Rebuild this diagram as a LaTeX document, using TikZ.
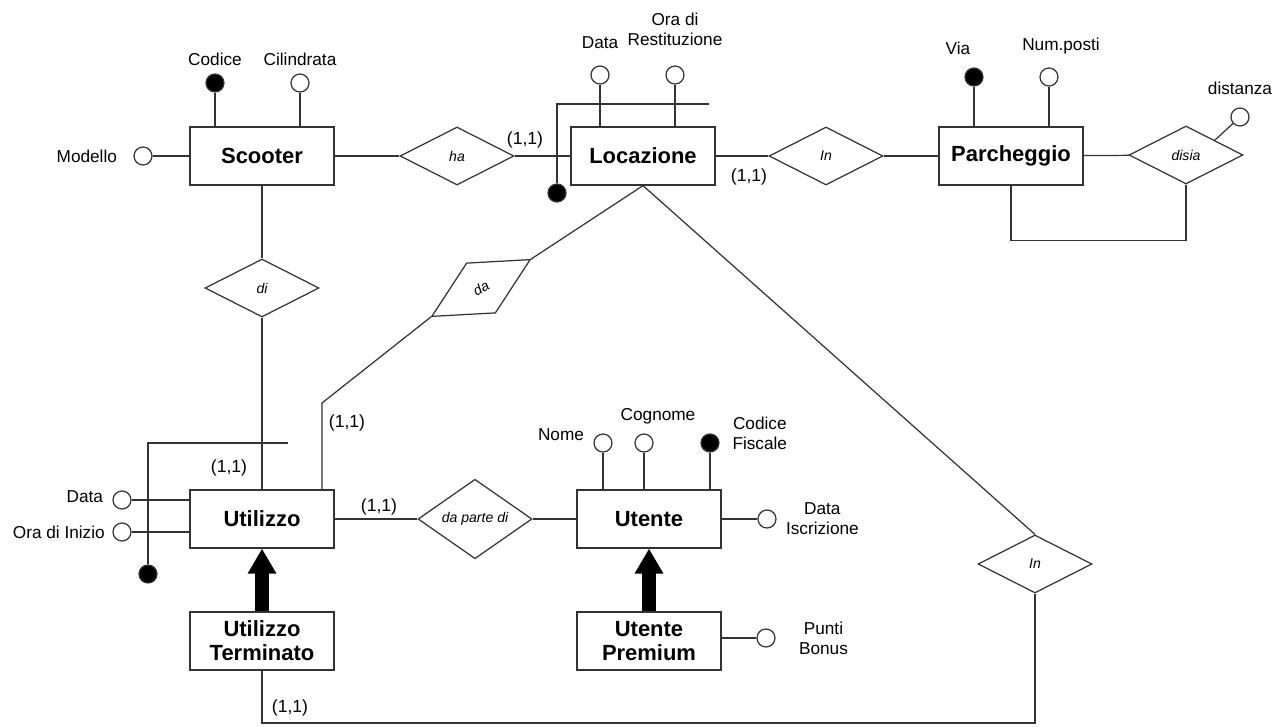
\documentclass[tikz,border=0pt]{standalone}
\usepackage{fontspec}
\setmainfont{Liberation Sans}
\usetikzlibrary{shapes.geometric,arrows.meta}

\begin{document}
\begin{tikzpicture}[x=0.02cm,y=-0.02cm,color=black!80,text=black,line width=0.7pt]
  \useasboundingbox (0,0) rectangle (1286,727);
  \tikzset{EntityStyle/.style = {rectangle,
                                 draw,
                                 align          = center,
                                 inner sep      = 0pt,
                                 minimum width  = 2.88cm,
                                 minimum height = 1.16cm,
                                 font           = \fontsize{12.5}{13.5}\selectfont\bfseries}}

  \tikzset{RelationStyle/.style = {shape          = diamond,
                                   draw,
                                   inner sep      = 0pt,
                                   minimum width  = 2.28cm,
                                   minimum height = 1.16cm,
                                   font           = \fontsize{8}{9}\selectfont\itshape}}

  \tikzset{AttrStyle/.style = {shape          = circle,
                               draw,
                               fill           = white,
                               inner sep      = 0pt,
                               minimum size   = 0.36cm}}

  \tikzset{KeyStyle/.style = {AttrStyle,
                              fill           = black}}

  \tikzset{every label/.style = {font      = \fontsize{9.8}{11.5}\selectfont,
                                 align     = center,
                                 inner sep = 1pt,
                                 text      = black}}

  \tikzset{CardStyle/.style = {font = \fontsize{10}{12}\selectfont}}
  \tikzset{EdgeStyle/.style = {line width = 0.7pt}}
  \tikzset{GenStyle/.style  = {draw = black,
                               line width = 0.28cm,
                               -{Triangle[width=0.54cm,length=0.5cm]}}}

     % entities
     \node[EntityStyle] (Scooter)    at (262,156) {Scooter};
     \node[EntityStyle] (Locazione)  at (643,156) {Locazione};
     \node[EntityStyle] (Parcheggio) at (1011,156) {Parcheggio};
     \node[EntityStyle] (Utilizzo)   at (262,519) {Utilizzo};
     \node[EntityStyle] (UtiTerm)    at (262,641) {Utilizzo\\Terminato};
     \node[EntityStyle] (Utente)     at (649,519) {Utente};
     \node[EntityStyle] (Premium)    at (649,641) {Utente\\Premium};

     % relationships
     \node[RelationStyle] (ha)      at (457,156) {ha};
     \node[RelationStyle] (inPark)  at (826,156) {In};
     \node[RelationStyle] (disia)   at (1186,155) {disia};
     \node[RelationStyle] (di)      at (262,288) {di};
     \node[RelationStyle,rotate=30] (da) at (481,288) {da};
     \node[RelationStyle] (daParte) at (475,519) {da parte di};
     \node[RelationStyle] (inLoc)   at (1035,564) {In};

     % attributes
     \node[KeyStyle]  (Codice)     at (215,83) [label={[label distance=3pt]above:Codice}]{};
     \node[AttrStyle] (Cilindrata) at (300,83) [label={[label distance=3pt]above:Cilindrata}]{};
     \node[AttrStyle] (Modello)    at (143,156) [label={[label distance=8pt]left:Modello}]{};
     \node[AttrStyle] (LocData)    at (600,75) [label={[label distance=8pt]above:Data}]{};
     \node[AttrStyle] (LocOra)     at (675,75) [label={[label distance=10pt]above:Ora di\\Restituzione}]{};
     \node[KeyStyle]  (LocKey)     at (557,193) {};
     \node[KeyStyle]  (Via)        at (974,77) [label={[label distance=6pt,xshift=-0.32cm]above:Via}]{};
     \node[AttrStyle] (NumPosti)   at (1049,77) [label={[label distance=6pt,xshift=0.24cm]above:Num.posti}]{};
     \node[AttrStyle] (Distanza)   at (1240,117) [label={[label distance=6pt]above:distanza}]{};
     \node[AttrStyle] (UtiData)    at (122,500) [label={[label distance=4pt,yshift=0.06cm]left:Data}]{};
     \node[AttrStyle] (UtiOra)     at (122,532) [label={[label distance=3pt]left:Ora di Inizio}]{};
     \node[KeyStyle]  (UtiKey)     at (148,574) {};
     \node[AttrStyle] (Nome)       at (603,443) [label={[label distance=4pt,yshift=0.16cm]left:Nome}]{};
     \node[AttrStyle] (Cognome)    at (644,443) [label={[label distance=4pt,xshift=0.28cm]above:Cognome}]{};
     \node[KeyStyle]  (CodFisc)    at (710,443) [label={[label distance=6pt,yshift=0.19cm]right:Codice\\Fiscale}]{};
     \node[AttrStyle] (DataIscr)   at (767,519) [label={[label distance=4pt]right:Data\\Iscrizione}]{};
     \node[AttrStyle] (Punti)      at (766,638) [label={[label distance=12pt]right:Punti\\Bonus}]{};

     % cardinalities
     \node[CardStyle] (c_ha)     at (525,140) {(1,1)};
     \node[CardStyle] (c_in)     at (749,177) {(1,1)};
     \node[CardStyle] (c_da)     at (347,423) {(1,1)};
     \node[CardStyle] (c_di)     at (229,468) {(1,1)};
     \node[CardStyle] (c_parte)  at (379,507) {(1,1)};
     \node[CardStyle] (c_term)   at (290,708) {(1,1)};

     % free ends of lines
     \coordinate (LocKeyEnd) at (709,104);
     \coordinate (UtiKeyEnd) at (288,443);
     \coordinate (daKink)    at (322,403);
     \coordinate (termCorner) at (262,723);

     % attribute lines
     \draw[EdgeStyle] (Codice) -- (Codice |- Scooter.north);
     \draw[EdgeStyle] (Cilindrata) -- (Cilindrata |- Scooter.north);
     \draw[EdgeStyle] (Modello) -- (Scooter);
     \draw[EdgeStyle] (LocData) -- (LocData |- Locazione.north);
     \draw[EdgeStyle] (LocOra) -- (LocOra |- Locazione.north);
     \draw[EdgeStyle] (LocKey) |- (LocKeyEnd);
     \draw[EdgeStyle] (Via) -- (Via |- Parcheggio.north);
     \draw[EdgeStyle] (NumPosti) -- (NumPosti |- Parcheggio.north);
     \draw[EdgeStyle] (disia.north east) -- (Distanza);
     \draw[EdgeStyle] (UtiData) -- (UtiData -| Utilizzo.west);
     \draw[EdgeStyle] (UtiOra) -- (UtiOra -| Utilizzo.west);
     \draw[EdgeStyle] (UtiKey) |- (UtiKeyEnd);
     \draw[EdgeStyle] (Nome) -- (Nome |- Utente.north);
     \draw[EdgeStyle] (Cognome) -- (Cognome |- Utente.north);
     \draw[EdgeStyle] (CodFisc) -- (CodFisc |- Utente.north);
     \draw[EdgeStyle] (DataIscr) -- (Utente);
     \draw[EdgeStyle] (Punti) -- (Punti -| Premium.east);

     % relationship lines
     \draw[EdgeStyle] (Scooter) -- (ha) -- (Locazione);
     \draw[EdgeStyle] (Locazione) -- (inPark) -- (Parcheggio);
     \draw[EdgeStyle] (Parcheggio) -- (disia);
     \draw[EdgeStyle] (Parcheggio.south) -- ++(0,55) -| (disia.south);
     \draw[EdgeStyle] (Scooter) -- (di) -- (Utilizzo);
     \draw[EdgeStyle] (Locazione.south) -- (da.east);
     \draw[EdgeStyle] (da.west) -- (daKink) -- (daKink |- Utilizzo.north);
     \draw[EdgeStyle] (Utilizzo) -- (daParte) -- (Utente);
     \draw[EdgeStyle] (Locazione.south) -- (inLoc.north);
     \draw[EdgeStyle] (inLoc.south) |- (termCorner) -- (UtiTerm.south);

     % generalizations
     \draw[GenStyle] (UtiTerm.north) -- (Utilizzo.south);
     \draw[GenStyle] (Premium.north) -- (Utente.south);
\end{tikzpicture}
\end{document}
